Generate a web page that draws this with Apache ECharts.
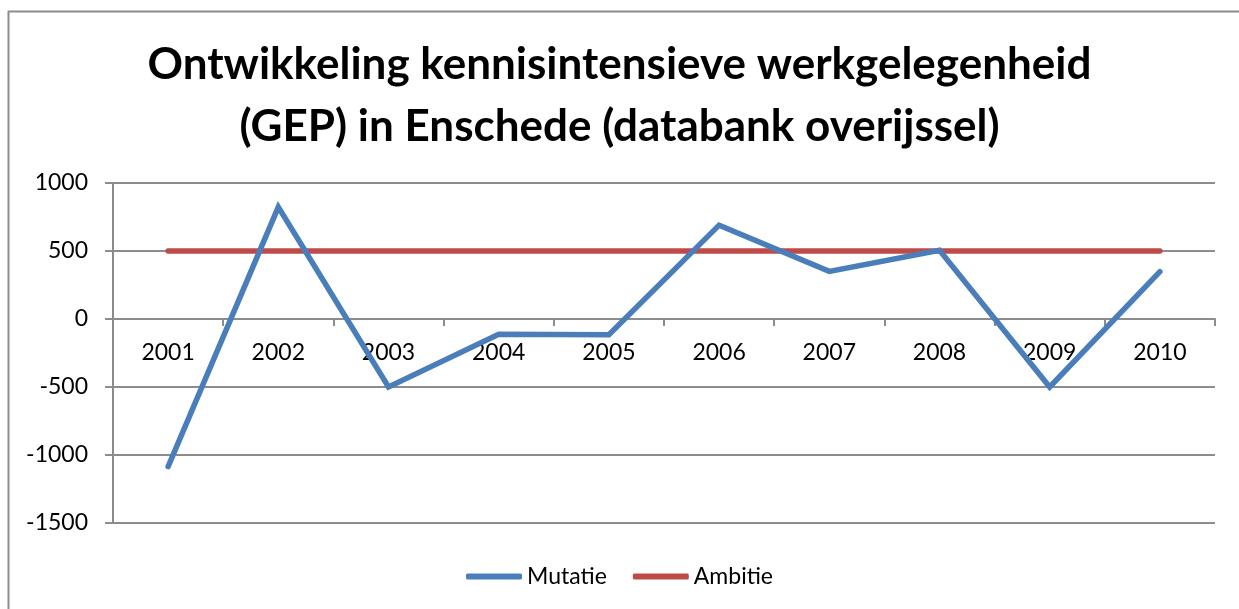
<!DOCTYPE html>
<html>
<head>
<meta charset="utf-8">
<script src="https://cdn.jsdelivr.net/npm/echarts@6/dist/echarts.min.js"></script>
<style>
  html, body { margin: 0; padding: 0; background: #fff; }
  #chart { width: 1239px; height: 609px; }
</style>
</head>
<body>
<div id="chart"></div>
<script>
// Kennisintensieve werkgelegenheid Enschede, jaarlijkse mutatie vs. ambitie
const years = ['2001', '2002', '2003', '2004', '2005', '2006', '2007', '2008', '2009', '2010'];
const mutatie = [-1085, 823, -500, -112, -115, 690, 350, 505, -500, 348];
const ambitie = [500, 500, 500, 500, 500, 500, 500, 500, 500, 500];
const yTicks = { min: -1500, max: 1000, step: 500 };

const FONT = 'Lato, "Open Sans", sans-serif';
const GRID = '#8c8c8c';

// plot area (px)
const plot = { left: 113, right: 24, top: 183, bottom: 86 };
const plotHeight = 609 - plot.top - plot.bottom;
// the category axis sits on the zero line
const zeroOffset = -plotHeight * (0 - yTicks.min) / (yTicks.max - yTicks.min);

const chart = echarts.init(document.getElementById('chart'), null, { renderer: 'canvas' });
chart.setOption({
  backgroundColor: '#ffffff',
  animation: false,
  title: {
    text: 'Ontwikkeling kennisintensieve werkgelegenheid\n(GEP) in Enschede (databank overijssel)',
    left: 'center',
    top: 29,
    textStyle: {
      fontFamily: FONT,
      fontSize: 44,
      fontWeight: 'bold',
      color: '#000',
      lineHeight: 62
    }
  },
  graphic: [{
    type: 'rect',
    shape: { x: 8.5, y: 11.5, width: 1260, height: 640 },
    style: { fill: 'none', stroke: '#8c8c8c', lineWidth: 2 },
    silent: true
  }],
  legend: {
    bottom: 16,
    left: 'center',
    itemWidth: 56,
    itemHeight: 6,
    itemGap: 26,
    icon: 'roundRect',
    textStyle: { fontFamily: FONT, fontSize: 23, color: '#000' },
    data: ['Mutatie', 'Ambitie']
  },
  grid: { left: plot.left, right: plot.right, top: plot.top, bottom: plot.bottom, containLabel: false },
  xAxis: {
    type: 'category',
    data: years,
    boundaryGap: true,
    offset: zeroOffset,
    axisLine: { onZero: false, lineStyle: { color: GRID, width: 2 } },
    axisTick: { show: true, length: 7, lineStyle: { color: GRID, width: 2 } },
    axisLabel: { fontFamily: FONT, fontSize: 23, color: '#000', margin: 22 },
    splitLine: { show: false }
  },
  yAxis: {
    type: 'value',
    min: yTicks.min,
    max: yTicks.max,
    interval: yTicks.step,
    axisLine: { show: true, lineStyle: { color: GRID, width: 2 } },
    axisTick: { show: true, length: 8, lineStyle: { color: GRID, width: 2 } },
    axisLabel: { fontFamily: FONT, fontSize: 23, color: '#000', margin: 25, formatter: v => String(v) },
    splitLine: { show: true, lineStyle: { color: GRID, width: 2 } }
  },
  series: [
    {
      name: 'Mutatie',
      type: 'line',
      data: mutatie,
      symbol: 'none',
      lineStyle: { color: '#4a7ebb', width: 5.5, cap: 'round', join: 'miter' },
      itemStyle: { color: '#4a7ebb' },
      z: 3
    },
    {
      name: 'Ambitie',
      type: 'line',
      data: ambitie,
      symbol: 'none',
      lineStyle: { color: '#be4b48', width: 5.5, cap: 'round' },
      itemStyle: { color: '#be4b48' },
      z: 2
    }
  ]
});
</script>
</body>
</html>
